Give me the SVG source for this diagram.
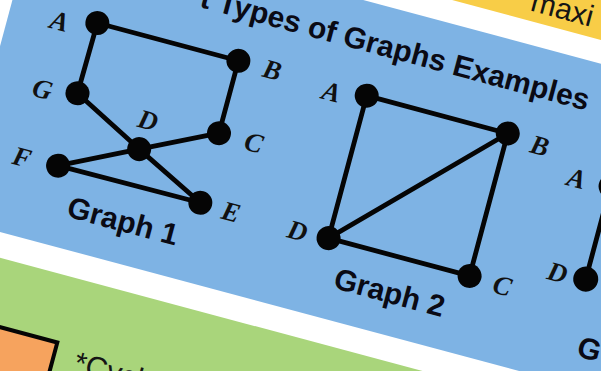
<svg xmlns="http://www.w3.org/2000/svg" width="613" height="371" viewBox="0 0 613 371">
<style>
.edge{stroke:#050505;stroke-width:4.8;stroke-linecap:round;fill:none}
.node{fill:#050505}
.lbl{font-family:"Liberation Serif","DejaVu Serif",serif;font-style:italic;font-weight:bold;font-size:27px;fill:#111;text-anchor:middle}
.cap{font-family:"Liberation Sans",Arial,sans-serif;font-weight:bold;font-size:30px;fill:#0a0a14}
.plain{font-family:"Liberation Sans",Arial,sans-serif;font-size:30px;fill:#151515}
</style>
<rect x="0" y="0" width="613" height="371" fill="#ffffff"/>
<g transform="rotate(15)">
  <rect id="yellow-panel" x="0" y="-420" width="1000" height="303" fill="#F8CD47"/>
  <rect id="blue-panel" x="12" y="-94" width="900" height="318" fill="#7EB3E4"/>
  <rect id="green-panel" x="-300" y="249" width="1200" height="400" fill="#A9D57B"/>
  <rect id="orange-box" x="-100" y="316" width="244" height="200" fill="#F6A35E" stroke="#050505" stroke-width="4"/>
  <text class="plain" x="514" y="-127">maxi</text>
  <text class="plain" x="166" y="340" font-size="28">*Cycl</text>
  <text class="cap" x="595" y="-45" text-anchor="end">t Types of Graphs Examples</text>

  <g id="connectors">
    <line class="edge" x1="100" y1="-3" x2="246" y2="-3"/>
    <line class="edge" x1="100" y1="-3" x2="99" y2="70"/>
    <line class="edge" x1="246" y1="-3" x2="246" y2="72"/>
    <line class="edge" x1="99" y1="70" x2="173" y2="108"/>
    <line class="edge" x1="246" y1="72" x2="173" y2="108"/>
    <line class="edge" x1="173" y1="108" x2="99" y2="145"/>
    <line class="edge" x1="173" y1="108" x2="246" y2="144"/>
    <line class="edge" x1="99" y1="145" x2="246" y2="144"/>

    <line class="edge" x1="379" y1="-2.5" x2="525" y2="-2.5"/>
    <line class="edge" x1="379" y1="-2.5" x2="379" y2="145"/>
    <line class="edge" x1="525" y1="-2.5" x2="379" y2="145"/>
    <line class="edge" x1="525" y1="-2.5" x2="525" y2="145"/>
    <line class="edge" x1="379" y1="145" x2="525" y2="145"/>

    <line class="edge" x1="638" y1="22" x2="638" y2="118"/>
  </g>

  <g id="g1-A"><circle class="node" cx="100" cy="-3" r="12"/><text class="lbl" x="63" y="14">A</text></g>
  <g id="g1-B"><circle class="node" cx="246" cy="-3" r="12"/><text class="lbl" x="281" y="6">B</text></g>
  <g id="g1-G"><circle class="node" cx="99" cy="70" r="12"/><text class="lbl" x="64" y="84">G</text></g>
  <g id="g1-C"><circle class="node" cx="246" cy="72" r="12"/><text class="lbl" x="282" y="81">C</text></g>
  <g id="g1-D"><circle class="node" cx="173" cy="108" r="12"/><text class="lbl" x="174" y="87">D</text></g>
  <g id="g1-F"><circle class="node" cx="99" cy="145" r="12"/><text class="lbl" x="62" y="155">F</text></g>
  <g id="g1-E"><circle class="node" cx="246" cy="144" r="12"/><text class="lbl" x="278" y="154">E</text></g>
  <text class="cap" x="176" y="192" text-anchor="middle">Graph 1</text>

  <g id="g2-A"><circle class="node" cx="379" cy="-2.5" r="12"/><text class="lbl" x="344" y="12">A</text></g>
  <g id="g2-B"><circle class="node" cx="525" cy="-2.5" r="12"/><text class="lbl" x="559" y="10">B</text></g>
  <g id="g2-D"><circle class="node" cx="379" cy="145" r="12"/><text class="lbl" x="347" y="155">D</text></g>
  <g id="g2-C"><circle class="node" cx="525" cy="145" r="12"/><text class="lbl" x="559" y="155">C</text></g>
  <text class="cap" x="452" y="192" text-anchor="middle">Graph 2</text>

  <g id="g3-A"><circle class="node" cx="638" cy="22" r="12"/><text class="lbl" x="603" y="32">A</text></g>
  <g id="g3-D"><circle class="node" cx="638" cy="118" r="12.5"/><text class="lbl" x="609" y="128">D</text></g>
  <text class="cap" x="648" y="195">G</text>
</g>
<rect x="601" y="0" width="12" height="371" fill="#ffffff"/>
</svg>
